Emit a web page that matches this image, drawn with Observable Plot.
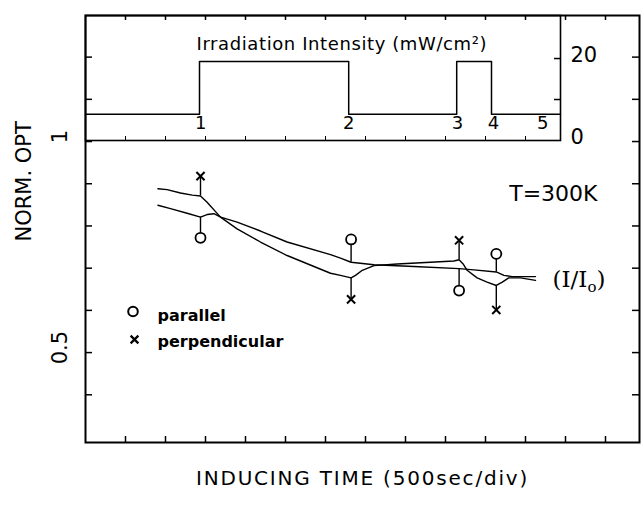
<!DOCTYPE html>
<html><head><meta charset="utf-8">
<script src="https://cdn.jsdelivr.net/npm/d3@7"></script>
<script src="https://cdn.jsdelivr.net/npm/@observablehq/plot@0.6"></script>
<style>
html,body{margin:0;padding:0;background:#fff;}
#wrap{position:relative;width:641px;height:521px;overflow:hidden;}
#wrap svg{position:absolute;left:0;top:0;}
</style></head><body><div id="wrap"></div>
<script>
// ---- data (time in divisions of 500 s) ----
const perpTime = [1.81, 2.04, 2.375, 2.67, 2.875, 3.04, 3.375, 3.79, 4.375, 5.04, 6.125, 6.375, 6.64, 6.75, 6.92, 7.21, 7.79, 8.625, 9.21, 9.34, 9.44, 9.54, 9.79, 10.04, 10.27, 10.42, 10.58, 10.875, 11.25];
const perpNorm = [0.888, 0.886, 0.878, 0.873, 0.871, 0.856, 0.821, 0.793, 0.762, 0.730, 0.688, 0.683, 0.677, 0.683, 0.695, 0.706, 0.710, 0.714, 0.717, 0.720, 0.710, 0.695, 0.677, 0.667, 0.659, 0.667, 0.677, 0.677, 0.671];
const parTime = [1.81, 2.125, 2.54, 2.875, 3.04, 3.21, 3.38, 3.79, 4.375, 5.04, 6.125, 6.375, 6.64, 7.21, 8.21, 9.34, 9.71, 10.27, 10.46, 10.67, 11.25];
const parNorm = [0.849, 0.841, 0.830, 0.821, 0.827, 0.829, 0.821, 0.809, 0.788, 0.762, 0.732, 0.724, 0.714, 0.708, 0.704, 0.699, 0.696, 0.691, 0.683, 0.680, 0.680];

const markTime = [2.875, 6.64, 9.34, 10.27];
const perpMark = [0.918, 0.626, 0.766, 0.601];
const perpBase = [0.871, 0.677, 0.720, 0.659];
const parMark  = [0.772, 0.768, 0.647, 0.734];
const parBase  = [0.821, 0.714, 0.699, 0.691];

const stepTime  = [0, 2.85, 6.58, 9.28, 10.15, 11.875];
const intensity = [6.4, 19.3, 6.4, 19.3, 6.4, 6.4];
const stepLabelTime = [2.88, 6.58, 9.3, 10.2, 11.43];
const stepLabels = ["1", "2", "3", "4", "5"];

const xTicks = [1,2,3,4,5,6,7,8,9,10,11,12,13];
const yTicks = [0.4,0.5,0.6,0.7,0.8,0.9,1.0,1.1,1.2];
const yLabelVals = [0.5, 1];
const yLabels = ["0.5", "1"];
const insetTickVals = [10, 20];
const insetLabelVals = [0, 20];
const insetLabels = ["0", "20"];
const insetBottomTicks = [1,2,3,4,5,6,7,8,9,10,11];

// ---- build ----
const W = 641, H = 521;
const sans = "DejaVu Sans";
const perp = perpTime.map((t, i) => ({t, v: perpNorm[i]}));
const par = parTime.map((t, i) => ({t, v: parNorm[i]}));
const marks = markTime.map((t, i) => ({t, perpMark: perpMark[i], perpBase: perpBase[i], parMark: parMark[i], parBase: parBase[i]}));
const steps = stepTime.map((t, i) => ({t, i: intensity[i]}));

const main = Plot.plot({
  width: W, height: H,
  marginLeft: 85, marginRight: 2, marginTop: 15, marginBottom: 79,
  style: {background: "white", color: "black", fontFamily: sans},
  x: {domain: [0, 13.85], axis: null},
  y: {domain: [0.287, 1.2986], axis: null},
  marks: [
    Plot.tickY(yTicks, {y: d => d, insetRight: 547, stroke: "black", strokeWidth: 1.5}),
    Plot.tickY(yTicks, {y: d => d, insetLeft: 547, stroke: "black", strokeWidth: 1.5}),
    Plot.tickX(xTicks, {x: d => d, insetTop: 421, stroke: "black", strokeWidth: 1.5}),
    Plot.tickX(xTicks, {x: d => d, insetBottom: 422, stroke: "black", strokeWidth: 1.5}),
    Plot.line(perp, {x: "t", y: "v", stroke: "black", strokeWidth: 1.4}),
    Plot.line(par, {x: "t", y: "v", stroke: "black", strokeWidth: 1.4}),
    Plot.ruleX(marks, {x: "t", y1: "perpBase", y2: "perpMark", stroke: "black", strokeWidth: 1.4}),
    Plot.ruleX(marks, {x: "t", y1: "parBase", y2: "parMark", stroke: "black", strokeWidth: 1.4}),
    Plot.dot(marks, {x: "t", y: "parMark", r: 5, stroke: "black", fill: "white", strokeWidth: 1.8}),
    Plot.dot(marks, {x: "t", y: "perpMark", symbol: "times", r: 3.8, stroke: "black", strokeWidth: 2}),
    Plot.frame({stroke: "black", strokeWidth: 2}),
    Plot.text(yLabelVals, {y: d => d, text: (d, i) => yLabels[i], frameAnchor: "left", dx: -25, dy: -5, rotate: -90, textAnchor: "middle", fontSize: 21, fontFamily: sans}),
    Plot.text(["NORM. OPT"], {text: d => d, frameAnchor: "left", dx: -61, dy: 12.5, rotate: -90, fontSize: 21, fontFamily: sans}),
    Plot.text(["INDUCING TIME (500sec/div)"], {text: d => d, frameAnchor: "bottom", dy: 42, fontSize: 20, fontFamily: sans}),
    Plot.text(["T=300K"], {text: d => d, frameAnchor: "top-right", dx: -42, dy: 170, textAnchor: "end", fontSize: 22, fontFamily: sans}),
    Plot.text(["(I/I)"], {text: d => d, frameAnchor: "top-right", dx: -87, dy: 255, textAnchor: "start", fontSize: 23, fontFamily: "DejaVu Serif"}),
    Plot.dot([0], {frameAnchor: "top-left", dx: 47.5, dy: 296, r: 4.8, stroke: "black", fill: "white", strokeWidth: 2}),
    Plot.dot([0], {frameAnchor: "top-left", dx: 49, dy: 324, symbol: "times", r: 3.6, stroke: "black", strokeWidth: 2.2}),
    Plot.text(["parallel"], {text: d => d, frameAnchor: "top-left", dx: 72, dy: 294, textAnchor: "start", fontSize: 16, fontWeight: "bold", fontFamily: sans}),
    Plot.text(["perpendicular"], {text: d => d, frameAnchor: "top-left", dx: 72, dy: 320, textAnchor: "start", fontSize: 16, fontWeight: "bold", fontFamily: sans})
  ]
});

const inset = Plot.plot({
  width: W, height: H,
  marginLeft: 85, marginRight: 81, marginTop: 15, marginBottom: 381,
  style: {background: "transparent", color: "black", fontFamily: sans},
  x: {domain: [0, 11.875], axis: null},
  y: {domain: [0, 30.5], axis: null},
  marks: [
    Plot.line(steps, {x: "t", y: "i", curve: "step-after", stroke: "black", strokeWidth: 1.5}),
    Plot.tickY(insetTickVals, {y: d => d, insetLeft: 469, stroke: "black", strokeWidth: 1.5}),
    Plot.tickX(insetBottomTicks, {x: d => d, insetTop: 121, stroke: "black", strokeWidth: 1}),
    Plot.frame({stroke: "black", strokeWidth: 1.6}),
    Plot.text(stepLabelTime, {x: d => d, text: (d, i) => stepLabels[i], frameAnchor: "bottom", dy: -12, fontSize: 18, fontFamily: sans}),
    Plot.text(["Irradiation Intensity (mW/cm²)"], {text: d => d, frameAnchor: "top-left", dx: 111, dy: 22, textAnchor: "start", fontSize: 18, fontFamily: sans}),
    Plot.text(insetLabelVals, {y: d => d, text: (d, i) => insetLabels[i], frameAnchor: "right", dx: 10, dy: -3, textAnchor: "start", fontSize: 21, fontFamily: sans})
  ]
});

const wrap = document.getElementById("wrap");
wrap.appendChild(main);
wrap.appendChild(inset);

for (const t of [...main.querySelectorAll("text"), ...inset.querySelectorAll("text")]) {
  const s = t.textContent;
  if (s === "INDUCING TIME (500sec/div)") t.setAttribute("letter-spacing", "1.8");
  if (s.startsWith("Irradiation")) t.setAttribute("letter-spacing", "0.6");
  if (s === "(I/I)") {
    t.innerHTML = '(I/I<tspan font-size="15" dy="5">o</tspan><tspan dy="-5">)</tspan>';
  }
}
</script></body></html>
